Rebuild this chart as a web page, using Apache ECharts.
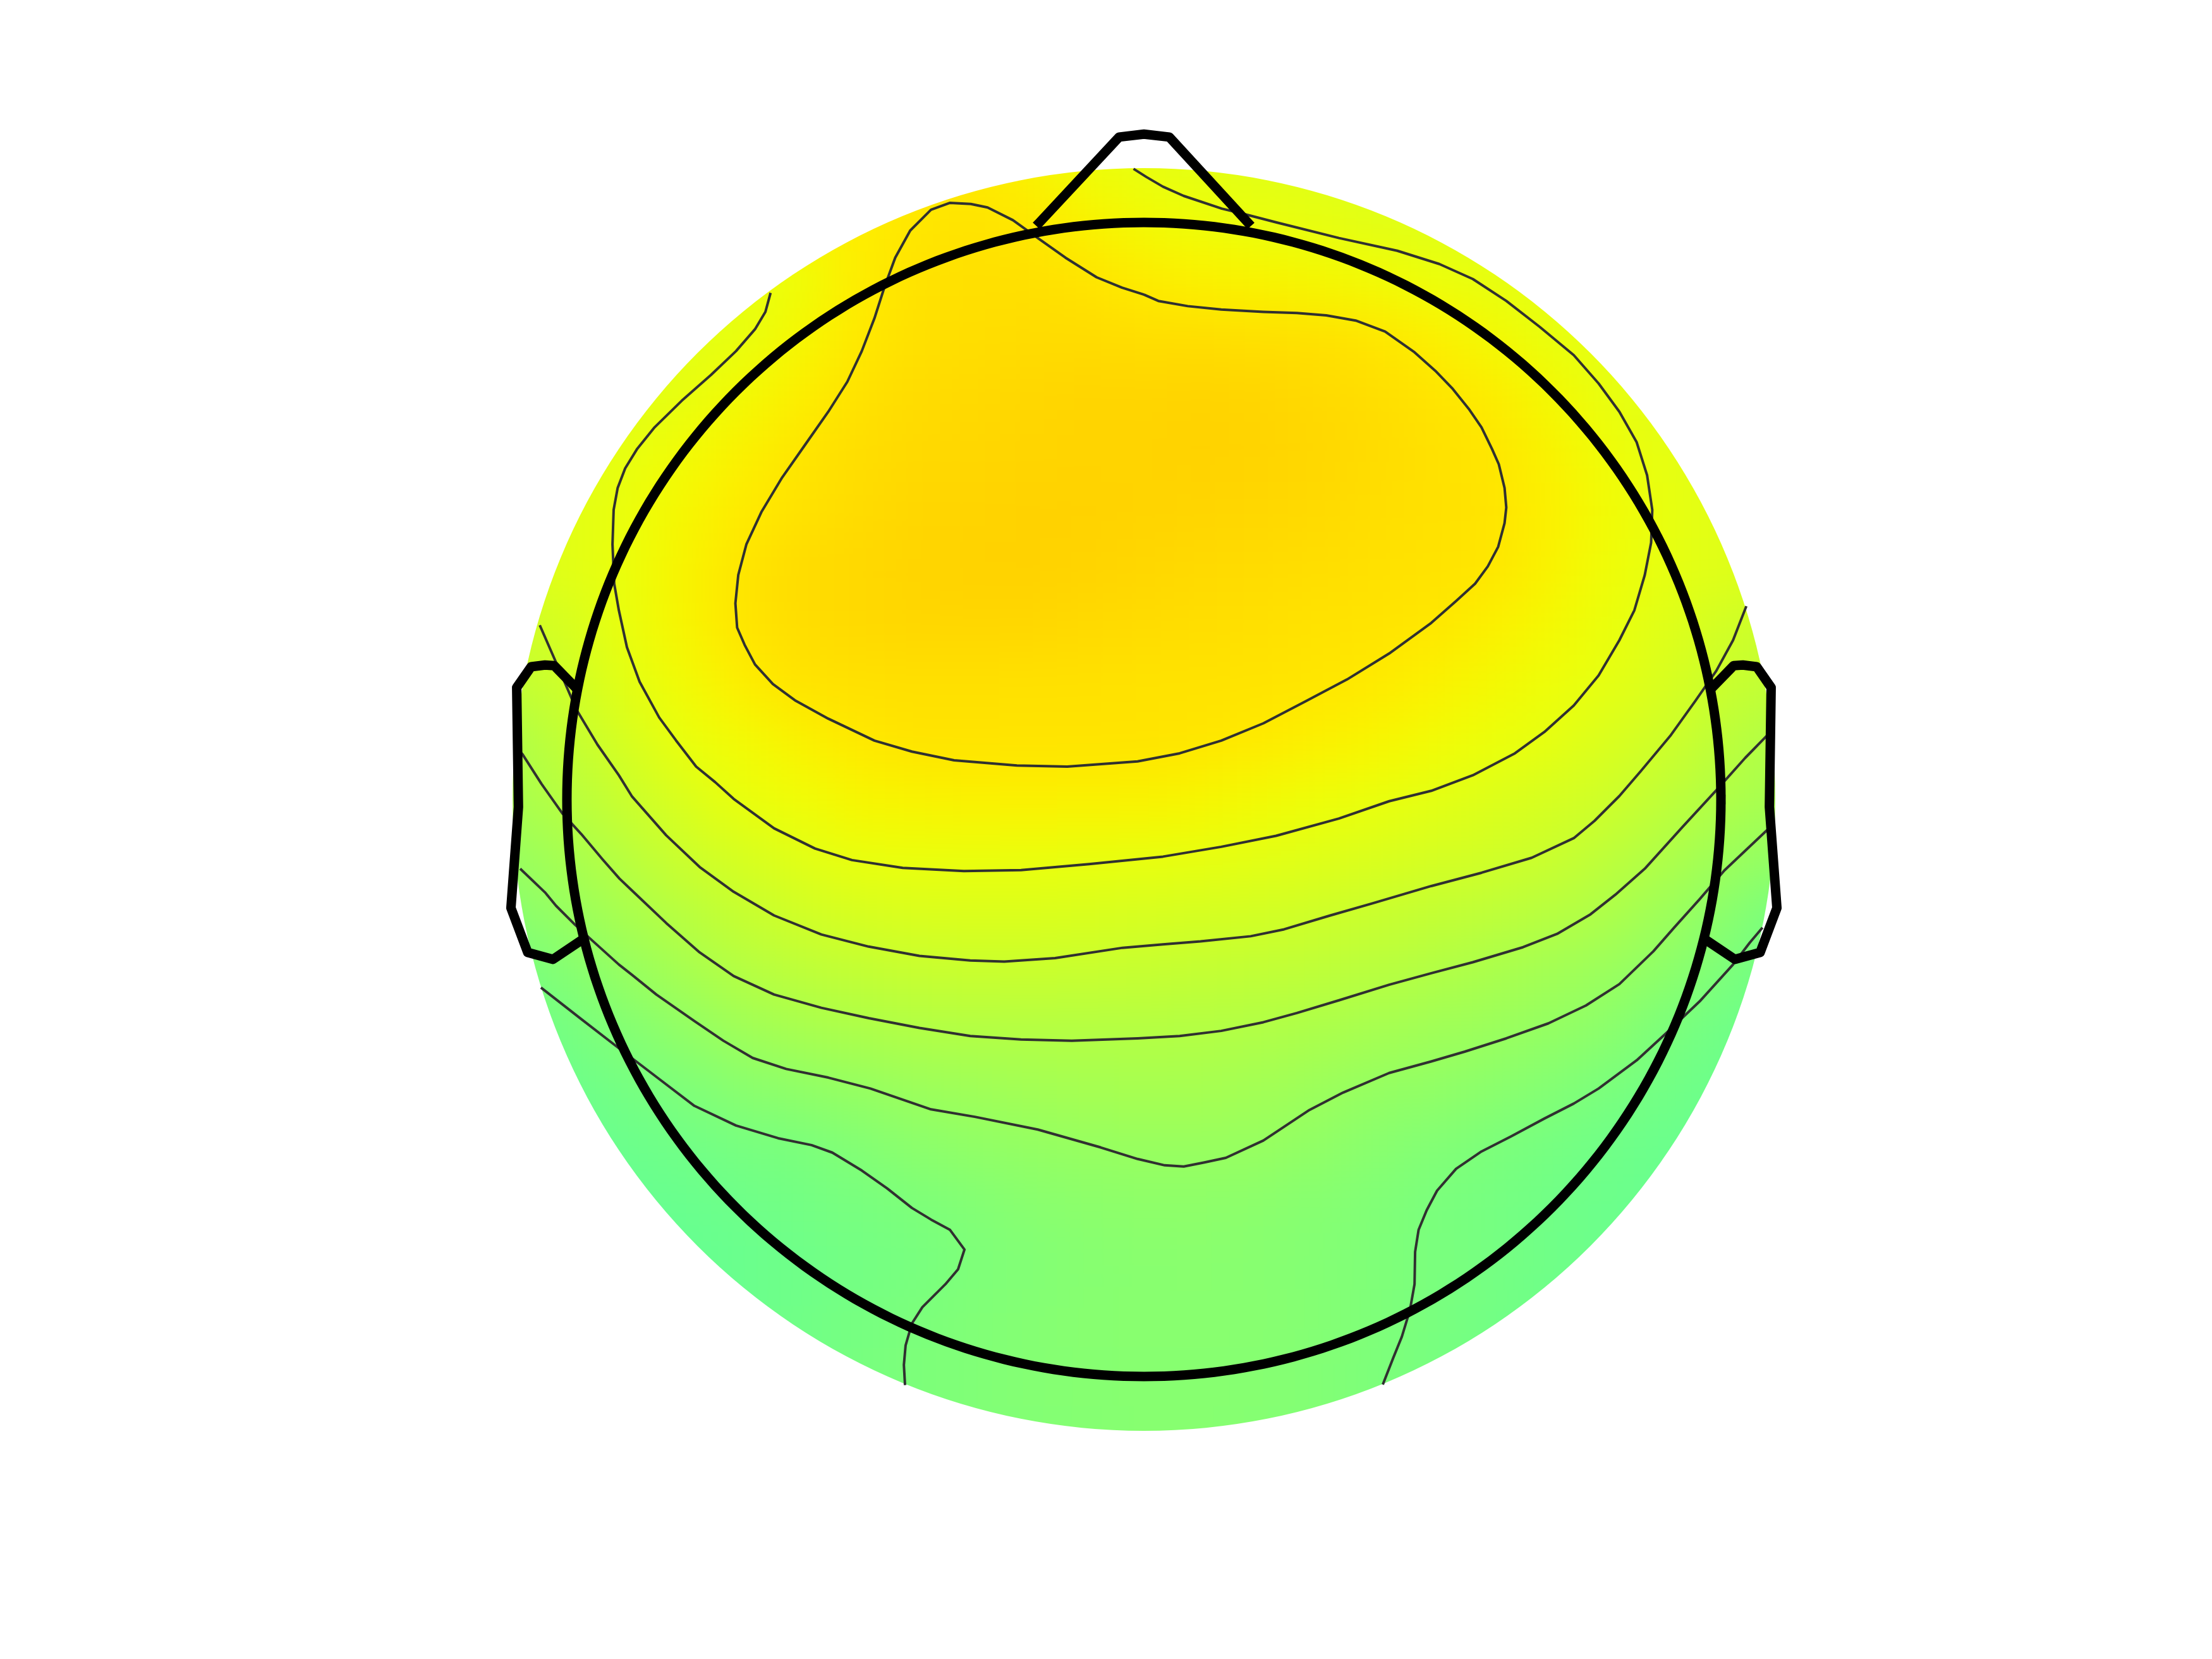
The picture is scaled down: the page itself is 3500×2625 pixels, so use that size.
<!DOCTYPE html>
<html>
<head>
<meta charset="utf-8">
<title>Topomap</title>
<script src="https://cdn.jsdelivr.net/npm/echarts/dist/echarts.min.js"></script>
<style>
  html, body { margin: 0; padding: 0; background: #ffffff; }
  #wrap { position: relative; width: 3500px; height: 2625px; overflow: hidden; background: #ffffff; }
  #fieldClip { position: absolute; left: 0; top: 0; width: 3500px; height: 2625px;
               clip-path: circle(999px at 1810px 1265px); }
  #field { position: absolute; left: 0; top: 0; width: 3500px; height: 2625px; filter: blur(40px); }
  #main { position: absolute; left: 0; top: 0; width: 3500px; height: 2625px; }
</style>
</head>
<body>
<div id="wrap">
  <div id="fieldClip"><div id="field"></div></div>
  <div id="main"></div>
</div>
<script>
// ---------------- DATA (head units: head radius = 1) ----------------
const _ = null;
// colour scale limits (jet)
const VMIN = -6;
const VMAX = 6;
// contour levels, low to high
const CONTOUR_LEVELS = [0.0, 0.4, 0.8, 1.2, 1.6, 2.0];

// grid of field values: columns x = -1.2 ... 1.2, rows y = 1.2 ... -1.2
const GRID_X = [-1.2,-1.1,-1.0,-0.9,-0.8,-0.7,-0.6,-0.5,-0.4,-0.3,-0.2,-0.1,0.0,0.1,0.2,0.3,0.4,0.5,0.6,0.7,0.8,0.9,1.0,1.1,1.2];
const GRID_Y = [1.2,1.1,1.0,0.9,0.8,0.7,0.6,0.5,0.4,0.3,0.2,0.1,0.0,-0.1,-0.2,-0.3,-0.4,-0.5,-0.6,-0.7,-0.8,-0.9,-1.0,-1.1,-1.2];
const FIELD = [
  [_,_,_,_,_,_,_,1.8,1.82,1.8,1.72,1.6,1.52,1.48,1.45,1.42,1.4,1.38,_,_,_,_,_,_,_],
  [_,_,_,_,_,_,1.78,1.86,1.92,1.95,1.85,1.68,1.58,1.52,1.48,1.45,1.43,1.41,1.39,_,_,_,_,_,_],
  [_,_,_,_,1.62,1.68,1.8,1.9,1.99,2.04,1.98,1.85,1.74,1.68,1.62,1.56,1.5,1.46,1.43,1.4,1.38,_,_,_,_],
  [_,_,_,1.4,1.48,1.56,1.68,1.9,2.04,2.08,2.08,2.02,1.92,1.86,1.83,1.78,1.73,1.65,1.58,1.52,1.47,1.43,_,_,_],
  [_,_,1.32,1.4,1.5,1.59,1.77,1.96,2.06,2.1,2.12,2.12,2.1,2.1,2.08,2.06,2.0,1.89,1.75,1.62,1.52,1.45,1.4,_,_],
  [_,_,1.35,1.45,1.59,1.74,1.89,2.04,2.12,2.15,2.19,2.21,2.21,2.23,2.21,2.15,2.1,2.02,1.92,1.76,1.6,1.48,1.42,_,_],
  [_,1.38,1.45,1.58,1.71,1.86,2.0,2.1,2.15,2.19,2.21,2.23,2.23,2.25,2.23,2.19,2.12,2.06,2.0,1.85,1.69,1.56,1.47,1.41,_],
  [1.33,1.4,1.5,1.62,1.79,1.94,2.04,2.13,2.19,2.23,2.25,2.25,2.23,2.21,2.19,2.15,2.1,2.06,2.02,1.89,1.73,1.58,1.48,1.41,1.36],
  [1.33,1.41,1.5,1.63,1.82,2.0,2.12,2.17,2.21,2.25,2.25,2.23,2.19,2.15,2.13,2.1,2.06,2.04,2.0,1.85,1.7,1.56,1.47,1.4,1.35],
  [1.15,1.2,1.33,1.61,1.81,2.0,2.1,2.15,2.19,2.19,2.19,2.15,2.12,2.1,2.08,2.04,2.02,1.99,1.87,1.77,1.64,1.47,1.27,1.14,1.05],
  [0.95,1.05,1.2,1.51,1.72,1.9,2.02,2.06,2.08,2.08,2.06,2.06,2.04,2.04,2.02,2.0,1.95,1.86,1.76,1.67,1.55,1.36,1.15,1.02,0.92],
  [0.6,0.72,1.05,1.33,1.62,1.73,1.85,1.96,2.02,2.02,2.02,2.02,2.02,2.0,1.95,1.88,1.81,1.73,1.65,1.56,1.38,1.21,0.97,0.75,0.65],
  [0.52,0.66,0.87,1.15,1.39,1.62,1.7,1.8,1.84,1.86,1.87,1.86,1.85,1.8,1.74,1.68,1.62,1.53,1.43,1.33,1.22,1.0,0.78,0.62,0.52],
  [0.3,0.42,0.64,0.9,1.17,1.33,1.48,1.61,1.63,1.63,1.63,1.61,1.6,1.58,1.53,1.47,1.39,1.32,1.25,1.16,0.97,0.77,0.5,0.35,0.25],
  [0.05,0.2,0.4,0.65,0.88,1.08,1.24,1.33,1.38,1.4,1.4,1.37,1.34,1.31,1.27,1.22,1.14,1.05,0.96,0.87,0.74,0.5,0.22,-0.05,-0.15],
  [-0.2,-0.08,0.12,0.38,0.61,0.82,0.95,1.04,1.1,1.13,1.14,1.12,1.09,1.05,1.01,0.96,0.89,0.8,0.69,0.57,0.45,0.27,0.02,-0.15,-0.25],
  [-0.3,-0.22,-0.08,0.11,0.31,0.51,0.63,0.71,0.78,0.81,0.82,0.83,0.83,0.81,0.78,0.71,0.62,0.54,0.46,0.36,0.24,0.0,-0.15,-0.25,-0.3],
  [-0.33,-0.3,-0.22,-0.1,0.04,0.2,0.3,0.38,0.47,0.52,0.58,0.62,0.64,0.63,0.58,0.48,0.38,0.32,0.23,0.13,-0.01,-0.12,-0.22,-0.3,-0.33],
  [-0.35,-0.34,-0.31,-0.24,-0.15,-0.07,-0.01,0.1,0.22,0.31,0.36,0.4,0.42,0.42,0.4,0.32,0.2,0.1,0.01,-0.08,-0.16,-0.24,-0.3,-0.34,-0.35],
  [-0.35,-0.35,-0.34,-0.31,-0.26,-0.2,-0.12,-0.05,0.01,0.1,0.18,0.24,0.27,0.27,0.22,0.15,0.07,-0.01,-0.08,-0.15,-0.22,-0.27,-0.32,-0.34,-0.35],
  [_,_,-0.35,-0.34,-0.32,-0.27,-0.2,-0.13,-0.06,0.02,0.09,0.15,0.19,0.2,0.17,0.11,0.05,-0.02,-0.09,-0.16,-0.22,-0.27,-0.3,_,_],
  [_,_,_,-0.33,-0.3,-0.24,-0.16,-0.08,0.0,0.07,0.12,0.16,0.18,0.19,0.17,0.12,0.04,-0.04,-0.12,-0.2,-0.26,-0.3,_,_,_],
  [_,_,_,_,-0.3,-0.24,-0.16,-0.07,0.01,0.07,0.12,0.15,0.17,0.17,0.15,0.1,0.02,-0.06,-0.14,-0.21,-0.27,_,_,_,_],
  [_,_,_,_,_,_,-0.15,-0.07,0.0,0.06,0.11,0.14,0.16,0.16,0.14,0.1,0.02,-0.05,-0.12,_,_,_,_,_,_],
  [_,_,_,_,_,_,_,-0.07,0.0,0.06,0.1,0.13,0.15,0.15,0.13,0.09,0.02,-0.05,_,_,_,_,_,_,_]
];

// contour lines [x, y]
const CONTOUR_2_0 = [[0.0,0.875],[-0.038,0.887],[-0.082,0.905],[-0.136,0.939],[-0.184,0.973],[-0.227,1.004],[-0.271,1.026],[-0.300,1.032],[-0.336,1.034],[-0.369,1.022],[-0.405,0.986],[-0.431,0.939],[-0.449,0.890],[-0.467,0.834],[-0.489,0.777],[-0.514,0.724],[-0.547,0.672],[-0.587,0.615],[-0.627,0.558],[-0.663,0.498],[-0.689,0.442],[-0.703,0.389],[-0.708,0.340],[-0.705,0.298],[-0.692,0.268],[-0.674,0.234],[-0.643,0.200],[-0.605,0.172],[-0.547,0.140],[-0.467,0.102],[-0.402,0.083],[-0.329,0.068],[-0.220,0.059],[-0.133,0.057],[-0.011,0.066],[0.062,0.080],[0.134,0.102],[0.207,0.132],[0.280,0.170],[0.352,0.208],[0.425,0.253],[0.498,0.306],[0.541,0.344],[0.574,0.374],[0.596,0.404],[0.614,0.438],[0.625,0.479],[0.628,0.506],[0.625,0.540],[0.615,0.581],[0.603,0.608],[0.585,0.645],[0.563,0.677],[0.534,0.713],[0.505,0.743],[0.469,0.775],[0.418,0.811],[0.367,0.830],[0.316,0.839],[0.265,0.843],[0.207,0.845],[0.134,0.849],[0.076,0.855],[0.025,0.864],[0.0,0.875]];
const CONTOUR_1_6 = [[-0.018,1.093],[0.004,1.079],[0.033,1.062],[0.069,1.046],[0.135,1.024],[0.172,1.015],[0.230,1.000],[0.338,0.973],[0.439,0.951],[0.512,0.928],[0.570,0.902],[0.628,0.864],[0.686,0.819],[0.745,0.770],[0.788,0.721],[0.824,0.672],[0.854,0.619],[0.872,0.562],[0.881,0.502],[0.879,0.445],[0.868,0.389],[0.850,0.328],[0.824,0.276],[0.788,0.215],[0.745,0.163],[0.694,0.117],[0.643,0.080],[0.570,0.042],[0.498,0.015],[0.425,-0.003],[0.338,-0.033],[0.229,-0.063],[0.134,-0.082],[0.033,-0.099],[-0.095,-0.112],[-0.213,-0.1225],[-0.312,-0.124],[-0.418,-0.1185],[-0.506,-0.105],[-0.570,-0.085],[-0.641,-0.050],[-0.711,0.001],[-0.743,0.030],[-0.776,0.057],[-0.811,0.1025],[-0.840,0.142],[-0.874,0.204],[-0.896,0.264],[-0.910,0.328],[-0.918,0.374],[-0.921,0.442],[-0.919,0.502],[-0.912,0.540],[-0.899,0.574],[-0.878,0.608],[-0.848,0.645],[-0.801,0.691],[-0.750,0.736],[-0.707,0.777],[-0.674,0.815],[-0.656,0.845],[-0.647,0.878]];
const CONTOUR_1_2 = [[-1.047,0.302],[-1.019,0.238],[-0.983,0.155],[-0.947,0.095],[-0.910,0.042],[-0.887,0.005],[-0.828,-0.062],[-0.770,-0.117],[-0.711,-0.160],[-0.641,-0.201],[-0.559,-0.234],[-0.477,-0.255],[-0.389,-0.271],[-0.301,-0.279],[-0.242,-0.281],[-0.154,-0.275],[-0.037,-0.257],[0.033,-0.251],[0.098,-0.246],[0.185,-0.237],[0.243,-0.225],[0.323,-0.201],[0.396,-0.180],[0.498,-0.150],[0.585,-0.127],[0.672,-0.101],[0.745,-0.067],[0.781,-0.037],[0.824,0.006],[0.861,0.049],[0.912,0.110],[0.955,0.170],[0.992,0.223],[1.021,0.276],[1.044,0.335]];
const CONTOUR_0_8 = [[-1.088,0.090],[-1.077,0.0785],[-1.044,0.027],[-1.008,-0.024],[-0.975,-0.060],[-0.938,-0.104],[-0.909,-0.137],[-0.887,-0.158],[-0.828,-0.214],[-0.770,-0.265],[-0.711,-0.306],[-0.641,-0.338],[-0.559,-0.361],[-0.477,-0.379],[-0.389,-0.396],[-0.301,-0.410],[-0.213,-0.416],[-0.125,-0.418],[-0.011,-0.414],[0.062,-0.410],[0.134,-0.401],[0.207,-0.386],[0.265,-0.370],[0.338,-0.348],[0.425,-0.321],[0.498,-0.301],[0.570,-0.282],[0.657,-0.256],[0.716,-0.233],[0.774,-0.199],[0.817,-0.165],[0.868,-0.120],[0.933,-0.048],[0.992,0.016],[1.042,0.072],[1.079,0.110],[1.088,0.118]];
const CONTOUR_0_4 = [[-1.081,-0.120],[-1.037,-0.162],[-1.019,-0.184],[-0.986,-0.217],[-0.961,-0.240],[-0.910,-0.286],[-0.887,-0.304],[-0.845,-0.338],[-0.779,-0.384],[-0.729,-0.418],[-0.678,-0.448],[-0.620,-0.467],[-0.547,-0.482],[-0.474,-0.501],[-0.369,-0.537],[-0.293,-0.550],[-0.184,-0.572],[-0.075,-0.603],[-0.011,-0.623],[0.036,-0.634],[0.069,-0.636],[0.105,-0.629],[0.142,-0.621],[0.207,-0.591],[0.287,-0.538],[0.345,-0.508],[0.425,-0.474],[0.498,-0.454],[0.556,-0.437],[0.628,-0.414],[0.701,-0.388],[0.766,-0.357],[0.824,-0.320],[0.883,-0.263],[0.919,-0.222],[0.963,-0.173],[1.006,-0.123],[1.079,-0.054],[1.088,-0.046]];
const CONTOUR_0_0_LEFT = [[-1.045,-0.326],[-0.976,-0.380],[-0.910,-0.431],[-0.838,-0.486],[-0.779,-0.531],[-0.707,-0.565],[-0.634,-0.587],[-0.576,-0.599],[-0.540,-0.612],[-0.489,-0.643],[-0.445,-0.674],[-0.402,-0.708],[-0.369,-0.728],[-0.336,-0.746],[-0.311,-0.780],[-0.322,-0.814],[-0.344,-0.840],[-0.384,-0.880],[-0.402,-0.908],[-0.413,-0.946],[-0.416,-0.980],[-0.414,-1.015]];
const CONTOUR_0_0_RIGHT = [[1.072,-0.222],[1.050,-0.248],[1.021,-0.286],[0.963,-0.350],[0.904,-0.406],[0.854,-0.452],[0.788,-0.501],[0.745,-0.527],[0.694,-0.553],[0.636,-0.584],[0.585,-0.610],[0.541,-0.640],[0.508,-0.678],[0.490,-0.712],[0.476,-0.746],[0.470,-0.784],[0.469,-0.840],[0.461,-0.885],[0.447,-0.931],[0.432,-0.968],[0.414,-1.014]];

// head outline parts
const HEAD_RADIUS = 1.0;
const NOSE = [[-0.181,1.0],[-0.043,1.148],[0.0,1.153],[0.044,1.148],[0.180,1.0]];
const EAR_LEFT = [[-0.988,0.197],[-1.022,0.232],[-1.038,0.233],[-1.062,0.230],[-1.087,0.194],[-1.084,-0.013],[-1.097,-0.188],[-1.068,-0.265],[-1.024,-0.277],[-0.978,-0.246]];
const EAR_RIGHT = [[0.988,0.197],[1.022,0.232],[1.038,0.233],[1.062,0.230],[1.087,0.194],[1.084,-0.013],[1.097,-0.188],[1.068,-0.265],[1.024,-0.277],[0.978,-0.246]];

// ---------------- colour map (matplotlib jet segment table) ----------------
const JET = {
  r: [[0,0],[0.35,0],[0.66,1],[0.89,1],[1,0.5]],
  g: [[0,0],[0.125,0],[0.375,1],[0.64,1],[0.91,0],[1,0]],
  b: [[0,0.5],[0.11,1],[0.34,1],[0.65,0],[1,0]]
};
function seg(p, t) {
  for (let i = 1; i < p.length; i++) {
    if (t <= p[i][0]) {
      const a = p[i - 1], b = p[i];
      return a[1] + (b[1] - a[1]) * (t - a[0]) / (b[0] - a[0]);
    }
  }
  return p[p.length - 1][1];
}
function jetColor(t) {
  const c = k => Math.round(255 * seg(JET[k], t));
  return 'rgb(' + c('r') + ',' + c('g') + ',' + c('b') + ')';
}
const jetStops = [];
for (let i = 0; i <= 240; i++) jetStops.push(jetColor(i / 240));

// ---------------- layout: both charts share the same plotting square ----------------
const UNIT = 913;            // px per head radius
const CX = 1810, CY = 1265;  // head centre in px
const HALF = 1.25;           // axis half range
const GRID = { left: CX - HALF * UNIT, top: CY - HALF * UNIT, width: 2 * HALF * UNIT, height: 2 * HALF * UNIT };

// ---------------- field (heatmap, smoothed by CSS blur, clipped to disk) ----------------
const yCats = GRID_Y.slice().reverse().map(String);
const xCats = GRID_X.map(String);
const heatData = [];
FIELD.forEach((row, r) => {
  const yi = GRID_Y.length - 1 - r;
  row.forEach((v, xi) => { if (v !== null) heatData.push([xi, yi, v]); });
});
const fieldChart = echarts.init(document.getElementById('field'), null, { renderer: 'canvas' });
fieldChart.setOption({
  animation: false,
  grid: Object.assign({ containLabel: false }, GRID),
  xAxis: { type: 'category', data: xCats, show: false },
  yAxis: { type: 'category', data: yCats, show: false },
  visualMap: { show: false, type: 'continuous', min: VMIN, max: VMAX, dimension: 2, seriesIndex: 0, inRange: { color: jetStops } },
  series: [{ type: 'heatmap', data: heatData, progressive: 0, silent: true, itemStyle: { borderWidth: 0 } }]
});

// ---------------- contours and head outline ----------------
const headCircle = [];
for (let d = 0; d <= 360; d += 1) {
  const a = d * Math.PI / 180;
  headCircle.push([HEAD_RADIUS * Math.cos(a), HEAD_RADIUS * Math.sin(a)]);
}
const contourSets = [
  { level: CONTOUR_LEVELS[5], pts: CONTOUR_2_0 },
  { level: CONTOUR_LEVELS[4], pts: CONTOUR_1_6 },
  { level: CONTOUR_LEVELS[3], pts: CONTOUR_1_2 },
  { level: CONTOUR_LEVELS[2], pts: CONTOUR_0_8 },
  { level: CONTOUR_LEVELS[1], pts: CONTOUR_0_4 },
  { level: CONTOUR_LEVELS[0], pts: CONTOUR_0_0_LEFT },
  { level: CONTOUR_LEVELS[0], pts: CONTOUR_0_0_RIGHT }
];
const series = contourSets.map(c => ({
  type: 'line', name: 'contour ' + c.level, data: c.pts, symbol: 'none', smooth: false, clip: false, silent: true,
  lineStyle: { color: '#303030', width: 4, join: 'round' }
}));
const outline = (name, pts) => ({
  type: 'line', name: name, data: pts, symbol: 'none', smooth: false, clip: false, silent: true,
  lineStyle: { color: '#000000', width: 15, join: 'round', cap: 'square' }
});
series.push(outline('head', headCircle));
series.push(outline('nose', NOSE));
series.push(outline('ear left', EAR_LEFT));
series.push(outline('ear right', EAR_RIGHT));

const mainChart = echarts.init(document.getElementById('main'), null, { renderer: 'canvas' });
mainChart.setOption({
  animation: false,
  backgroundColor: 'transparent',
  grid: Object.assign({ containLabel: false }, GRID),
  xAxis: { type: 'value', min: -HALF, max: HALF, show: false },
  yAxis: { type: 'value', min: -HALF, max: HALF, show: false },
  series: series
});
</script>
</body>
</html>
